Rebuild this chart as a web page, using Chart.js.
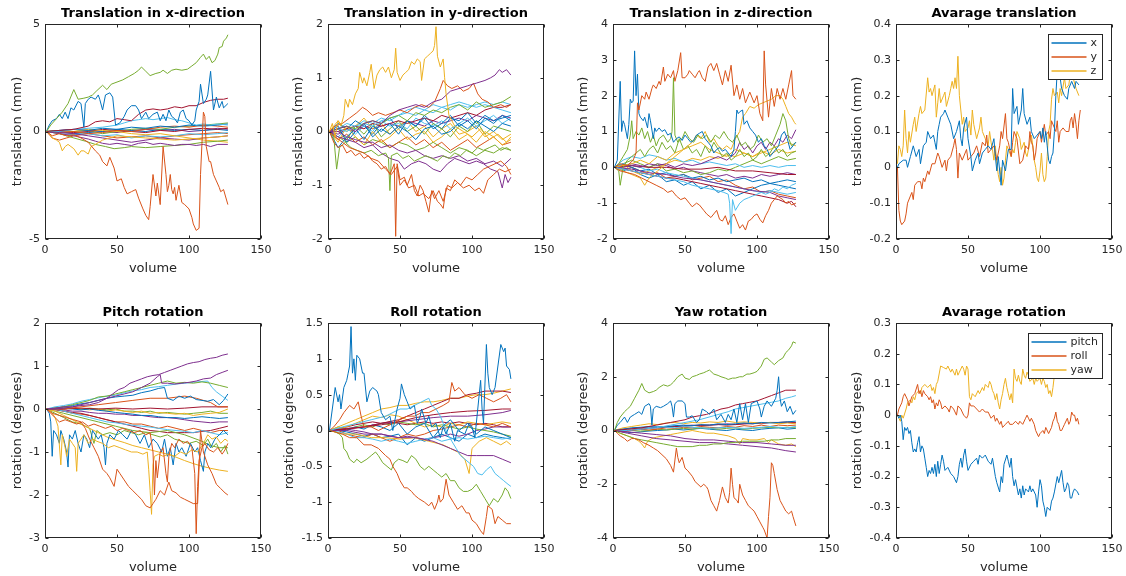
<!DOCTYPE html>
<html><head><meta charset="utf-8">
<script src="https://cdn.jsdelivr.net/npm/chart.js@4.4.1/dist/chart.umd.min.js"></script>
<style>html,body{margin:0;padding:0;background:#fff;width:1126px;height:576px;overflow:hidden;position:relative}canvas{position:absolute}</style>
</head><body>
<script>
// ---------- shared grids / ticks ----------
const VOLUME_TICKS = [0, 50, 100, 150];
const VOL6 = [1,7,13,19,25,31,37,43,49,55,61,67,73,79,85,91,97,103,109,115,121,127];
const B='#0072BD', O='#D95319', Y='#EDB120', P='#7E2F8E', G='#77AC30', C='#4DBEEE', R='#A2142F';

// ---------- Translation x ----------
const TX_G=[[1,0],[4,0.3],[8,0.6],[12,0.9],[16,1.3],[20,1.95],[23,1.5],[27,1.55],[30,1.6],[33,1.7],[36,1.9],[40,2.15],[43,1.95],[46,2.2],[50,2.3],[54,2.4],[58,2.55],[62,2.7],[65,2.85],[67,3.0],[70,2.8],[73,2.6],[77,2.7],[80,2.75],[82,2.85],[85,2.7],[88,2.85],[91,2.9],[95,2.85],[99,2.9],[102,3.05],[105,3.2],[108,3.45],[110,3.6],[112,3.35],[114,3.5],[116,3.2],[118,3.3],[120,3.6],[121,3.9],[123,3.95],[124,4.2],[126,4.35],[127,4.5]];
const TX_B=[[1,0],[3,0.3],[5,0.5],[8,0.6],[10,0.8],[12,0.6],[14,0.9],[16,0.6],[18,1.1],[20,1.0],[23,1.4],[25,1.3],[27,0.2],[28,1.3],[30,1.5],[32,1.6],[35,1.5],[37,1.7],[38,1.5],[40,1.0],[42,1.7],[45,1.8],[47,1.6],[49,0.3],[52,0.4],[55,0.7],[57,1.0],[60,1.2],[63,1.2],[65,1.0],[67,0.6],[70,0.9],[72,0.6],[75,0.8],[78,0.9],[80,0.5],[82,0.8],[84,0.5],[86,1.0],[88,0.7],[90,0.6],[92,0.4],[94,0.9],[96,1.0],[98,0.6],[100,0.5],[102,0.3],[104,0.5],[105,1.0],[107,1.4],[108,2.2],[110,1.3],[112,1.5],[113,1.7],[115,2.8],[117,1.0],[119,1.6],[121,1.1],[123,1.4],[124,1.1],[127,1.3]];
const TX_O=[[1,0],[5,-0.2],[10,-0.1],[15,-0.2],[20,-0.15],[25,-0.3],[30,-0.5],[35,-0.9],[38,-1.1],[40,-1.4],[43,-1.6],[45,-1.2],[48,-1.7],[50,-2.3],[53,-2.2],[55,-2.6],[57,-2.9],[60,-2.8],[63,-2.7],[65,-3.1],[68,-3.6],[70,-3.9],[72,-4.1],[73,-3.5],[75,-2.0],[77,-3.0],[78,-2.4],[80,-3.4],[82,-0.7],[84,-2.0],[85,-2.8],[86,-2.5],[87,-2.0],[88,-2.7],[89,-2.9],[90,-2.6],[91,-3.2],[93,-2.5],[95,-3.3],[97,-3.4],[100,-3.6],[102,-4.0],[103,-4.3],[105,-4.6],[107,-4.5],[108,-2.0],[110,0.9],[111,0.7],[112,-0.7],[114,-1.4],[115,-1.4],[117,-2.0],[119,-2.3],[121,-2.6],[122,-2.8],[124,-2.7],[127,-3.4]];
const TX_R=[[1,0],[10,0.05],[20,0.1],[30,0.25],[35,0.45],[40,0.5],[45,0.45],[50,0.6],[55,0.55],[60,0.5],[65,0.8],[70,1.0],[75,1.05],[80,1.0],[85,1.05],[90,1.15],[95,1.1],[100,1.2],[105,1.2],[110,1.35],[115,1.45],[120,1.5],[124,1.5],[127,1.55]];
const TX_C=[[1,0],[10,0.0],[20,0.1],[30,0.15],[40,0.2],[50,0.3],[55,0.4],[60,0.5],[65,0.55],[70,0.6],[75,0.55],[80,0.6],[85,0.65],[90,0.55],[95,0.5],[100,0.4],[105,0.3],[110,0.35],[115,0.3],[120,0.35],[127,0.3]];
const TX_P1=[[1,0],[10,-0.1],[20,-0.2],[30,-0.35],[35,-0.45],[40,-0.55],[45,-0.6],[50,-0.55],[55,-0.6],[60,-0.65],[65,-0.55],[70,-0.5],[75,-0.6],[80,-0.55],[85,-0.6],[90,-0.65],[95,-0.6],[100,-0.6],[105,-0.65],[110,-0.6],[115,-0.7],[120,-0.6],[127,-0.6]];
const TX_P2=[[1,0],[10,-0.05],[20,-0.1],[30,-0.2],[40,-0.3],[50,-0.4],[60,-0.5],[70,-0.4],[80,-0.3],[90,-0.35],[100,-0.4],[110,-0.3],[120,-0.25],[127,-0.2]];
const TX_G2=[[1,0],[10,-0.1],[20,-0.3],[28,-0.45],[35,-0.6],[42,-0.7],[48,-0.8],[55,-0.75],[60,-0.7],[70,-0.75],[80,-0.7],[90,-0.65],[100,-0.6],[110,-0.5],[120,-0.45],[127,-0.4]];
const TX_Y=[[1,0],[3,-0.1],[5,-0.3],[8,-0.4],[10,-0.5],[12,-0.9],[14,-0.7],[16,-0.6],[18,-0.7],[20,-0.8],[23,-1.1],[25,-0.9],[27,-0.9],[30,-1.05],[32,-0.7],[35,-0.6],[40,-0.4],[45,-0.3],[50,-0.2],[60,-0.25],[70,-0.3],[80,-0.35],[90,-0.4],[100,-0.35],[110,-0.3],[120,-0.25],[127,-0.2]];
const TX_B2=[[1,0],[10,0.05],[20,0.1],[30,0.05],[40,0.15],[50,0.1],[60,0.2],[70,0.15],[80,0.25],[90,0.2],[100,0.3],[110,0.25],[120,0.3],[127,0.35]];
const TX_O2=[[1,0],[10,-0.05],[20,0.0],[30,-0.1],[40,-0.05],[50,0.05],[60,0.0],[70,0.1],[80,0.2],[90,0.25],[100,0.2],[110,0.3],[120,0.25],[127,0.2]];
const TX_Y2=[[1,0],[10,0.05],[20,0.0],[30,0.1],[40,0.05],[50,0.0],[60,-0.1],[70,-0.15],[80,-0.1],[90,-0.2],[100,-0.3],[110,-0.4],[120,-0.45],[127,-0.5]];
const TX_R2=[[1,0],[10,0.0],[20,-0.05],[30,0.0],[40,0.1],[50,0.05],[60,0.0],[70,-0.05],[80,0.05],[90,0.0],[100,0.1],[110,0.15],[120,0.1],[127,0.15]];
const TX_C2=[[1,0],[10,-0.1],[20,-0.15],[30,-0.1],[40,-0.2],[50,-0.15],[60,-0.3],[70,-0.2],[80,-0.25],[90,-0.2],[100,-0.1],[110,-0.15],[120,-0.1],[127,-0.05]];
const TX_G3=[[1,0],[10,0.05],[20,0.0],[30,0.05],[40,-0.1],[50,0.0],[60,0.1],[70,0.15],[80,0.1],[90,0.2],[100,0.25],[110,0.3],[120,0.35],[127,0.4]];
const TX_B3=[[1,0],[10,0.0],[20,-0.1],[30,-0.05],[40,0.0],[50,0.1],[60,0.05],[70,0.0],[80,0.1],[90,0.05],[100,0.1],[110,0.05],[120,0.1],[127,0.05]];
const TX_P3=[[1,0],[10,0.05],[20,0.1],[30,0.05],[40,0.0],[50,-0.05],[60,0.05],[70,0.1],[80,0.05],[90,0.1],[100,0.0],[110,0.05],[120,0.15],[127,0.1]];
const TX_O3=[[1,0],[5,-0.3],[10,-0.4],[15,-0.3],[20,-0.2],[30,-0.1],[40,-0.2],[50,-0.3],[60,-0.25],[70,-0.2],[80,-0.3],[90,-0.2],[100,-0.15],[110,-0.1],[120,-0.05],[127,-0.1]];

// ---------- Translation y ----------
const TY_Y=[[1,0],[3,0.15],[5,-0.1],[7,0.2],[9,0.1],[11,0.3],[12,0.6],[14,0.45],[15,0.6],[17,0.5],[19,0.7],[21,0.8],[22,1.1],[24,0.9],[25,1.0],[27,0.85],[29,1.1],[30,1.25],[32,0.8],[34,1.05],[36,1.15],[38,1.2],[40,1.1],[42,1.2],[44,1.0],[46,1.15],[47,1.55],[48,1.1],[50,0.95],[52,1.05],[54,1.1],[56,1.15],[58,1.3],[60,1.25],[62,1.35],[64,1.3],[65,0.95],[67,1.35],[69,1.4],[71,1.45],[73,1.5],[74,1.6],[75,1.95],[76,1.4],[78,1.2],[80,1.35],[81,1.0],[82,0.7],[84,0.3],[88,0.1],[94,0.0],[100,-0.1],[106,0.05],[112,-0.15],[118,-0.05],[124,-0.2],[127,-0.1]];
const TY_P=[[1,0],[7,0.05],[13,0.1],[19,0.0],[25,0.15],[31,0.2],[37,0.15],[43,0.3],[49,0.4],[55,0.45],[61,0.5],[67,0.45],[73,0.55],[79,0.6],[85,0.75],[91,0.8],[97,0.85],[103,0.9],[109,0.95],[113,1.0],[116,1.05],[119,1.15],[121,1.1],[124,1.15],[127,1.05]];
const TY_O1=[[1,0],[4,-0.2],[7,-0.3],[10,-0.25],[13,-0.4],[16,-0.35],[19,-0.45],[22,-0.4],[25,-0.5],[28,-0.45],[31,-0.55],[34,-0.6],[37,-0.7],[40,-0.65],[43,-0.8],[46,-0.6],[47,-1.95],[48,-0.6],[50,-0.9],[53,-0.85],[55,-1.0],[58,-0.8],[60,-1.1],[62,-1.2],[64,-1.0],[66,-1.1],[68,-1.3],[70,-1.5],[72,-1.1],[74,-1.25],[77,-1.1],[80,-1.3],[83,-1.0],[86,-1.05],[90,-0.95],[94,-1.05],[98,-1.0],[102,-1.1],[105,-1.05],[108,-1.15],[111,-0.9],[115,-0.8],[119,-0.7],[123,-0.75],[127,-0.7]];
const TY_O2=[[1,0],[5,-0.1],[10,-0.2],[15,-0.3],[20,-0.35],[25,-0.4],[30,-0.5],[35,-0.55],[40,-0.7],[44,-0.8],[48,-0.65],[50,-1.0],[53,-0.9],[56,-1.05],[60,-1.0],[63,-1.2],[66,-1.15],[70,-1.25],[73,-1.1],[76,-1.3],[78,-1.35],[80,-1.43],[82,-1.05],[85,-1.1],[88,-0.9],[92,-1.0],[96,-0.85],[100,-0.9],[104,-0.8],[108,-0.7],[112,-0.65],[116,-0.6],[120,-0.55],[124,-0.65],[127,-0.8]];
const TY_O3=[[1,0],[5,0.1],[10,0.15],[15,0.25],[20,0.35],[24,0.45],[27,0.4],[31,0.3],[35,0.35],[40,0.3],[45,0.35],[50,0.4],[55,0.35],[60,0.45],[65,0.5],[70,0.45],[74,0.55],[78,0.8],[80,0.95],[83,0.85],[86,0.8],[90,0.85],[94,0.75],[98,0.8],[101,0.9],[104,0.7],[107,0.6],[111,0.55],[115,0.45],[120,0.5],[124,0.45],[127,0.5]];
const TY_G=[[1,0],[4,-0.1],[6,-0.7],[8,-0.3],[12,-0.2],[16,-0.3],[20,-0.35],[25,-0.4],[30,-0.35],[35,-0.45],[40,-0.4],[42,-0.5],[43,-1.1],[44,-0.45],[48,-0.4],[52,-0.5],[56,-0.45],[60,-0.55],[64,-0.5],[68,-0.45],[72,-0.5],[76,-0.55],[80,-0.45],[84,-0.5],[88,-0.4],[92,-0.45],[96,-0.35],[100,-0.4],[104,-0.3],[108,-0.35],[112,-0.3],[116,-0.25],[120,-0.35],[124,-0.3],[127,-0.35]];
const TY_P2=[[1,0],[7,-0.1],[13,-0.15],[19,-0.2],[25,-0.3],[31,-0.25],[37,-0.4],[43,-0.5],[49,-0.55],[53,-0.7],[58,-0.6],[63,-0.55],[68,-0.6],[73,-0.7],[78,-0.75],[83,-0.6],[88,-0.5],[93,-0.55],[98,-0.6],[103,-0.55],[108,-0.6],[113,-0.7],[118,-0.75],[121,-1.05],[123,-0.8],[125,-0.95],[127,-0.85]];
const TY_P3=[[1,0],[7,0.0],[13,-0.1],[19,-0.15],[25,-0.2],[31,-0.2],[37,-0.3],[43,-0.25],[49,-0.35],[55,-0.4],[61,-0.35],[67,-0.45],[73,-0.5],[79,-0.45],[85,-0.5],[91,-0.45],[97,-0.55],[103,-0.5],[109,-0.6],[115,-0.55],[121,-0.65],[127,-0.5]];
const TY_G2=[[1,0],[7,0.05],[13,0.1],[19,0.05],[25,0.15],[31,0.2],[37,0.15],[43,0.25],[49,0.3],[55,0.2],[61,0.35],[67,0.3],[73,0.4],[79,0.35],[85,0.45],[91,0.5],[97,0.4],[103,0.55],[109,0.45],[115,0.5],[121,0.55],[127,0.65]];
const TY_C=[[1,0],[7,0.05],[13,0.0],[19,0.1],[25,0.15],[31,0.1],[37,0.2],[43,0.25],[49,0.3],[55,0.4],[61,0.45],[67,0.4],[73,0.5],[79,0.45],[85,0.5],[91,0.55],[97,0.5],[103,0.45],[109,0.5],[115,0.45],[121,0.4],[127,0.35]];
const TY_b1=[0,-0.3,-0.1,0.05,-0.15,0.1,0.0,0.15,-0.05,0.2,0.1,0.25,0.05,0.15,0.3,0.1,0.2,0.05,0.25,0.15,0.3,0.2];
const TY_b2=[0,0.1,-0.2,0.0,0.15,-0.1,0.05,-0.05,0.1,0.0,-0.15,0.05,0.1,-0.05,0.0,0.15,0.05,0.2,0.1,0.0,0.15,0.1];
const TY_b3=[0,-0.2,0.1,-0.1,-0.25,0.0,-0.2,-0.1,0.05,-0.15,-0.05,0.0,-0.2,-0.1,0.05,-0.15,-0.05,-0.2,0.0,-0.1,-0.25,-0.15];
const TY_b4=[0,0.0,0.05,0.1,0.05,0.15,0.1,0.15,0.2,0.15,0.2,0.25,0.2,0.3,0.25,0.3,0.35,0.3,0.4,0.45,0.45,0.5];
const TY_b5=[0,-0.1,0.05,-0.05,0.1,0.0,0.2,0.1,0.15,0.05,0.25,0.15,0.1,0.2,0.05,0.15,0.25,0.1,0.2,0.3,0.15,0.25];
const TY_b6=[0,0.05,-0.15,0.1,-0.05,0.15,-0.1,0.05,0.2,0.0,0.1,-0.05,0.15,0.05,-0.1,0.1,0.0,0.2,-0.05,0.1,0.05,0.0];
const TY_b7=[0,-0.15,-0.05,-0.2,-0.1,-0.25,-0.15,-0.3,-0.2,-0.1,-0.25,-0.15,-0.3,-0.2,-0.35,-0.25,-0.15,-0.3,-0.2,-0.1,-0.25,-0.2];
const TY_b8=[0,0.15,0.05,0.2,0.1,-0.05,0.15,0.25,0.05,0.2,0.1,0.3,0.15,0.05,0.25,0.2,0.35,0.15,0.3,0.2,0.25,0.3];
const TY_b9=[0,0.2,0.0,0.1,0.25,0.05,0.15,-0.05,0.1,0.2,0.0,0.1,-0.1,0.05,0.15,-0.05,0.0,0.1,-0.1,0.0,-0.15,-0.05];
const TY_b10=[0,-0.05,0.05,0.0,0.1,0.05,0.1,0.15,0.1,0.2,0.15,0.1,0.2,0.15,0.2,0.25,0.2,0.3,0.25,0.2,0.3,0.25];
const TY_b11=[0,-0.1,-0.2,-0.1,-0.25,-0.15,-0.2,-0.3,-0.2,-0.25,-0.35,-0.3,-0.2,-0.3,-0.4,-0.3,-0.35,-0.45,-0.35,-0.4,-0.3,-0.35];
const TY_b12=[0,0.05,0.15,0.1,0.2,0.15,0.25,0.2,0.3,0.35,0.3,0.4,0.35,0.45,0.4,0.5,0.45,0.5,0.55,0.5,0.55,0.5];

// ---------- Translation z ----------
const TZ_O1=[[1,0],[5,0.1],[10,0.05],[14,0.2],[16,0.4],[17,1.8],[18,1.6],[20,2.0],[22,1.9],[23,2.1],[25,1.9],[27,2.2],[28,2.3],[30,2.2],[32,2.4],[33,2.3],[35,2.8],[36,2.4],[38,2.6],[40,2.5],[42,2.7],[43,2.4],[45,2.7],[47,3.2],[48,2.5],[50,2.5],[52,2.6],[53,2.7],[55,2.6],[57,2.5],[59,2.65],[60,2.7],[62,2.5],[64,2.4],[66,2.8],[68,2.9],[70,2.7],[72,2.9],[74,2.6],[76,2.3],[78,2.7],[80,2.4],[82,2.85],[84,2.0],[86,2.3],[88,1.9],[90,2.2],[92,1.8],[95,2.1],[98,1.8],[100,2.0],[102,1.5],[104,1.3],[105,3.25],[106,2.3],[108,1.4],[110,2.2],[112,1.7],[114,2.2],[116,1.9],[118,2.2],[120,1.9],[122,2.3],[124,2.7],[125,2.0],[127,1.9]];
const TZ_O2=[[1,0],[5,-0.1],[10,-0.15],[15,-0.2],[20,-0.3],[25,-0.4],[30,-0.5],[35,-0.6],[38,-0.7],[41,-0.65],[44,-0.8],[47,-0.9],[50,-0.85],[53,-1.0],[55,-1.1],[58,-1.0],[60,-1.05],[63,-1.2],[65,-1.3],[68,-1.4],[70,-1.3],[72,-1.2],[74,-1.45],[76,-1.5],[78,-1.35],[80,-1.6],[82,-1.4],[84,-1.3],[86,-1.5],[88,-1.7],[90,-1.6],[92,-1.75],[94,-1.5],[96,-1.45],[98,-1.35],[100,-1.3],[102,-1.45],[104,-1.55],[106,-1.35],[108,-1.2],[110,-1.0],[112,-0.9],[114,-0.8],[116,-0.85],[118,-0.9],[120,-1.0],[122,-0.95],[124,-1.05],[127,-1.0]];
const TZ_B1=[[1,0],[3,0.2],[5,2.4],[6,1.0],[7,1.3],[8,1.2],[10,0.8],[11,1.2],[12,1.9],[13,1.8],[14,1.85],[15,3.25],[16,2.0],[17,2.6],[18,1.5],[19,1.4],[21,1.3],[22,1.4],[24,1.1],[25,1.5],[26,1.3],[28,0.8],[29,1.1],[30,1.0],[32,1.1],[34,1.0],[36,1.05],[38,0.9],[40,0.95],[42,0.7],[44,0.8],[46,0.85],[48,0.75],[50,0.9],[52,0.8],[54,0.7],[56,0.75],[58,0.9],[60,0.95],[62,1.0],[64,0.8],[66,0.7],[68,0.6],[70,0.4],[72,0.5],[74,0.55],[76,0.45],[78,0.5],[80,0.4],[82,0.3],[84,0.5],[85,1.0],[86,1.6],[87,1.5],[88,1.55],[90,1.6],[91,1.2],[93,1.3],[95,1.1],[97,1.0],[99,0.9],[101,0.7],[103,0.8],[105,0.6],[107,0.5],[109,0.3],[111,0.4],[113,0.5],[115,0.6],[117,0.9],[119,1.0],[121,0.8],[123,0.5],[125,0.6],[127,0.7]];
const TZ_B2=[[1,0],[7,-0.05],[13,-0.1],[19,-0.15],[25,-0.2],[31,-0.25],[37,-0.3],[43,-0.35],[49,-0.4],[55,-0.5],[61,-0.55],[67,-0.6],[73,-0.65],[77,-0.7],[80,-0.75],[81,-1.0],[82,-1.85],[83,-0.9],[85,-1.2],[88,-1.0],[91,-0.9],[94,-0.85],[97,-0.8],[100,-0.75],[103,-0.7],[106,-0.75],[109,-0.7],[112,-0.6],[115,-0.65],[118,-0.55],[121,-0.6],[124,-0.5],[127,-0.45]];
const TZ_G1=[[1,0],[4,0.1],[7,0.3],[10,0.5],[12,0.9],[13,1.3],[14,0.8],[16,1.0],[18,0.9],[20,1.1],[22,0.8],[24,1.0],[26,0.7],[28,0.9],[30,0.6],[32,0.8],[35,0.9],[38,0.7],[40,0.8],[41,1.0],[42,2.5],[43,0.9],[45,0.7],[48,0.8],[50,1.0],[53,0.8],[56,0.7],[59,0.9],[62,0.8],[65,0.9],[68,0.7],[71,0.9],[74,0.8],[77,1.0],[80,0.8],[83,0.7],[86,0.9],[89,0.6],[92,0.7],[95,0.5],[98,0.6],[101,0.9],[104,0.7],[107,0.8],[110,0.6],[113,0.9],[116,1.2],[118,1.5],[120,1.3],[122,0.8],[124,0.6],[127,0.7]];
const TZ_G2=[[1,0],[4,-0.1],[5,-0.5],[7,0.0],[10,0.2],[13,0.3],[16,0.4],[19,0.5],[22,0.3],[25,0.5],[28,0.6],[31,0.4],[34,0.7],[37,0.5],[40,0.6],[43,0.4],[46,0.8],[49,0.5],[52,0.6],[55,0.4],[58,0.5],[61,0.3],[64,0.6],[67,0.4],[70,0.7],[73,0.5],[76,0.3],[79,0.4],[82,0.2],[85,0.3],[88,0.5],[91,0.3],[94,0.4],[97,0.2],[100,0.3],[103,0.5],[106,0.3],[109,0.4],[112,0.6],[115,0.4],[118,0.5],[121,0.3],[124,0.4],[127,0.45]];
const TZ_Y1=[[1,0],[7,0.05],[13,0.1],[19,0.2],[25,0.1],[31,0.3],[37,0.2],[43,0.4],[49,0.5],[55,0.7],[58,0.9],[61,0.8],[64,1.0],[67,0.7],[70,0.8],[73,0.6],[76,0.5],[79,0.6],[82,0.5],[85,0.8],[88,1.0],[90,1.4],[92,1.5],[95,1.7],[98,1.65],[101,1.75],[104,1.8],[107,1.85],[110,1.9],[113,2.0],[116,2.0],[118,1.9],[120,1.7],[122,1.5],[124,1.4],[126,1.25],[127,1.2]];
const TZ_Y2=[[1,0],[7,-0.1],[13,-0.2],[19,-0.3],[22,-0.5],[25,-0.3],[31,-0.1],[37,0.1],[43,0.3],[49,0.5],[55,0.6],[61,0.7],[67,0.5],[73,0.4],[79,0.3],[85,0.5],[91,0.4],[97,0.3],[103,0.4],[109,0.5],[115,0.6],[121,0.7],[127,0.6]];
const TZ_P1=[[1,0],[7,0.0],[13,0.05],[19,0.0],[25,0.1],[31,0.05],[37,0.1],[43,0.0],[49,0.1],[55,0.05],[61,0.1],[67,0.2],[73,0.3],[79,0.2],[85,0.4],[88,0.7],[91,0.5],[94,0.6],[97,0.4],[100,0.6],[103,0.7],[106,0.5],[109,0.7],[112,0.6],[115,0.8],[118,0.7],[121,0.9],[124,0.8],[127,1.05]];
const TZ_R=[[1,0],[7,-0.05],[13,-0.1],[19,-0.15],[25,-0.2],[31,-0.25],[37,-0.3],[43,-0.3],[49,-0.35],[55,-0.4],[61,-0.45],[67,-0.5],[73,-0.55],[79,-0.6],[85,-0.65],[91,-0.7],[97,-0.75],[103,-0.8],[109,-0.85],[115,-0.9],[121,-1.0],[124,-0.95],[127,-1.1]];
const TZ_R2=[[1,0],[13,0.05],[25,0.0],[37,0.0],[49,-0.05],[61,-0.05],[73,0.0],[85,-0.1],[97,-0.1],[109,-0.15],[121,-0.2],[127,-0.2]];
const TZ_P2=[[1,0],[13,-0.05],[25,-0.15],[37,-0.2],[49,-0.3],[61,-0.35],[73,-0.45],[85,-0.55],[97,-0.65],[109,-0.7],[115,-0.8],[121,-0.85],[127,-0.9]];
const TZ_b1=[0,0.1,0.05,0.0,-0.1,-0.05,-0.15,-0.2,-0.25,-0.3,-0.35,-0.4,-0.45,-0.5,-0.55,-0.6,-0.65,-0.7,-0.65,-0.7,-0.75,-0.7];
const TZ_b2=[0,0.1,0.0,-0.1,-0.05,-0.2,-0.15,-0.25,-0.2,-0.3,-0.25,-0.35,-0.3,-0.4,-0.35,-0.3,-0.4,-0.35,-0.45,-0.4,-0.35,-0.4];
const TZ_b3=[0,0.2,0.3,0.25,0.35,0.3,0.2,0.25,0.15,0.2,0.1,0.15,0.1,0.05,0.1,0.0,0.05,0.0,0.05,0.0,0.05,0.05];
const TZ_b4=[0,0.1,-0.1,-0.2,-0.1,0.0,0.1,0.2,0.15,0.25,0.2,0.3,0.25,0.35,0.3,0.4,0.3,0.45,0.35,0.5,0.4,0.45];
const TZ_b5=[0,0.05,0.0,-0.1,-0.2,-0.15,-0.3,-0.25,-0.2,-0.35,-0.3,-0.25,-0.4,-0.35,-0.5,-0.6,-0.55,-0.7,-0.65,-0.75,-0.8,-0.85];
const TZ_b6=[0,0.1,0.2,0.1,0.0,0.1,-0.1,-0.05,-0.15,-0.1,-0.2,-0.15,-0.05,-0.1,0.0,0.1,0.2,0.1,0.2,0.3,0.2,0.25];
const TZ_b7=[0,-0.1,0.0,-0.2,-0.3,-0.2,-0.4,-0.35,-0.5,-0.4,-0.6,-0.5,-0.7,-0.6,-0.8,-0.7,-0.6,-0.5,-0.45,-0.5,-0.55,-0.6];
const TZ_b8=[0,0.05,0.1,0.05,0.0,0.1,0.05,-0.05,0.0,-0.1,-0.15,-0.2,-0.25,-0.2,-0.3,-0.25,-0.3,-0.2,-0.25,-0.2,-0.15,-0.2];

// ---------- Average translation ----------
const AT_X=[[1,0.0],[2,0.01],[5,0.02],[7,0.02],[8,0.0],[10,0.03],[12,0.06],[14,0.03],[16,0.05],[17,0.01],[19,0.06],[21,0.07],[22,0.1],[24,0.08],[26,0.09],[27,0.07],[28,0.05],[29,0.1],[30,0.12],[31,0.14],[33,0.15],[34,0.16],[36,0.14],[38,0.12],[40,0.08],[42,0.1],[44,0.13],[45,0.08],[46,0.06],[47,0.11],[49,0.14],[50,0.08],[52,0.03],[53,-0.01],[55,0.02],[57,0.04],[58,0.01],[60,0.04],[62,0.05],[64,0.06],[66,0.05],[68,0.08],[69,0.03],[70,-0.01],[71,0.03],[73,-0.05],[74,0.02],[76,-0.01],[78,0.05],[80,0.05],[81,0.22],[82,0.15],[84,0.17],[85,0.12],[87,0.16],[88,0.22],[89,0.15],[91,0.12],[93,0.14],[94,0.1],[96,0.08],[98,0.09],[100,0.1],[101,0.08],[102,0.11],[103,0.07],[104,0.1],[105,0.06],[106,0.02],[107,0.01],[108,0.03],[109,0.04],[110,0.1],[111,0.2],[112,0.27],[114,0.25],[115,0.22],[117,0.2],[119,0.19],[120,0.22],[122,0.24],[124,0.22],[125,0.24],[127,0.23]];
const AT_Y=[[1,0.0],[2,-0.12],[3,-0.15],[4,-0.16],[6,-0.15],[7,-0.13],[8,-0.1],[10,-0.08],[11,-0.07],[12,-0.09],[13,-0.05],[15,-0.04],[17,-0.04],[18,-0.06],[19,-0.03],[20,-0.04],[22,-0.01],[23,-0.02],[25,0.01],[27,0.01],[29,0.04],[30,0.03],[32,0.0],[34,0.02],[35,-0.01],[36,0.02],[38,0.03],[40,0.06],[41,0.08],[42,0.05],[43,-0.03],[44,0.04],[46,0.02],[48,0.04],[49,0.05],[50,0.02],[52,0.03],[54,0.04],[56,0.06],[58,0.03],[60,0.07],[62,0.06],[63,0.09],[64,0.04],[66,0.05],[68,0.06],[70,0.02],[72,0.06],[73,0.1],[74,0.08],[76,0.15],[77,0.08],[78,0.07],[80,0.03],[81,0.07],[82,0.1],[84,0.08],[86,0.01],[88,0.02],[90,0.06],[92,0.05],[93,0.1],[94,0.07],[95,0.06],[96,0.02],[97,0.04],[98,0.08],[100,0.1],[101,0.07],[103,0.12],[104,0.09],[106,0.1],[107,0.08],[108,0.13],[110,0.11],[111,0.1],[112,0.13],[113,0.07],[114,0.1],[116,0.11],[118,0.1],[120,0.1],[121,0.13],[122,0.14],[123,0.11],[124,0.15],[125,0.12],[126,0.08],[127,0.13],[128,0.16]];
const AT_Z=[[1,0.01],[2,0.06],[3,0.05],[4,0.03],[5,0.06],[6,0.16],[7,0.08],[8,0.04],[9,0.1],[10,0.07],[12,0.12],[13,0.14],[14,0.1],[16,0.15],[17,0.17],[18,0.15],[20,0.16],[22,0.25],[23,0.21],[24,0.22],[25,0.2],[27,0.23],[28,0.14],[29,0.18],[30,0.22],[31,0.18],[33,0.2],[34,0.21],[35,0.17],[37,0.2],[38,0.22],[39,0.24],[40,0.22],[41,0.25],[42,0.22],[43,0.31],[44,0.2],[45,0.16],[46,0.12],[47,0.14],[48,0.1],[50,0.11],[51,0.13],[52,0.09],[53,0.16],[54,0.12],[56,0.08],[58,0.11],[59,0.14],[60,0.1],[62,0.08],[64,0.06],[65,0.1],[66,0.07],[67,0.05],[68,0.02],[69,0.06],[70,0.01],[71,-0.02],[72,-0.04],[73,0.0],[74,-0.05],[75,-0.03],[76,0.02],[77,0.06],[78,0.05],[80,0.03],[81,0.05],[82,0.04],[83,0.07],[84,0.1],[86,0.08],[87,0.05],[89,0.07],[90,0.04],[91,0.03],[92,0.05],[94,0.09],[95,0.06],[96,0.02],[97,0.0],[98,-0.03],[99,-0.04],[100,-0.01],[101,0.04],[102,-0.02],[103,-0.04],[104,-0.03],[105,0.03],[106,0.1],[107,0.12],[108,0.19],[109,0.22],[110,0.2],[112,0.21],[113,0.18],[114,0.22],[115,0.2],[117,0.25],[118,0.22],[120,0.23],[121,0.26],[123,0.25],[125,0.22],[127,0.2]];
const AT_LABELS=['x','y','z'];

// ---------- Pitch ----------
const PI_P1=[[1,0],[7,0.02],[13,0.05],[19,0.05],[25,0.1],[31,0.15],[37,0.2],[43,0.25],[47,0.35],[51,0.45],[55,0.5],[59,0.6],[63,0.65],[67,0.7],[71,0.75],[75,0.78],[79,0.8],[83,0.85],[87,0.9],[91,0.95],[95,1.0],[99,1.05],[103,1.08],[107,1.1],[111,1.15],[115,1.18],[119,1.2],[123,1.25],[127,1.28]];
const PI_P2=[[1,0],[7,0.0],[13,0.02],[19,0.05],[25,0.08],[31,0.1],[37,0.15],[43,0.25],[49,0.3],[55,0.35],[61,0.4],[67,0.5],[73,0.6],[78,0.75],[80,0.8],[81,0.6],[85,0.6],[90,0.58],[95,0.6],[100,0.62],[105,0.65],[110,0.7],[115,0.72],[119,0.8],[123,0.85],[127,0.9]];
const PI_G1=[[1,0],[7,0.02],[13,0.05],[19,0.1],[25,0.15],[31,0.2],[37,0.28],[43,0.3],[49,0.35],[55,0.4],[61,0.45],[67,0.5],[73,0.55],[79,0.6],[85,0.65],[91,0.6],[97,0.62],[103,0.6],[109,0.63],[115,0.6],[121,0.55],[127,0.5]];
const PI_C1=[[1,0],[7,0.05],[13,0.08],[19,0.12],[25,0.18],[31,0.22],[37,0.26],[43,0.3],[49,0.32],[55,0.38],[61,0.42],[67,0.45],[73,0.5],[79,0.52],[85,0.55],[91,0.58],[97,0.6],[103,0.62],[109,0.64],[113,0.65],[116,0.5],[119,0.4],[123,0.3],[127,0.2]];
const PI_B1=[[1,0],[7,0.02],[13,0.05],[19,0.08],[25,0.12],[31,0.15],[37,0.2],[43,0.25],[49,0.28],[55,0.3],[61,0.32],[67,0.38],[73,0.42],[79,0.48],[83,0.5],[85,0.25],[89,0.2],[93,0.3],[97,0.25],[101,0.3],[105,0.22],[109,0.2],[113,0.18],[117,0.22],[121,0.1],[124,0.2],[127,0.35]];
const PI_O1=[[1,0],[13,0.0],[25,0.05],[37,0.1],[49,0.15],[61,0.2],[73,0.25],[85,0.25],[97,0.3],[105,0.25],[110,0.2],[115,0.15],[120,0.05],[127,0.05]];
const PI_R=[[1,0],[13,0.0],[25,0.02],[37,0.0],[49,0.02],[61,0.0],[73,0.02],[85,0.0],[97,0.02],[109,0.05],[121,0.05],[127,0.05]];
const PI_O2=[[1,0],[5,-0.1],[10,-0.15],[15,-0.2],[20,-0.25],[25,-0.3],[28,-0.45],[31,-0.7],[34,-0.9],[37,-1.1],[40,-1.4],[43,-1.5],[45,-1.6],[48,-1.8],[50,-1.4],[52,-1.5],[55,-1.65],[58,-1.8],[61,-1.9],[64,-2.0],[67,-2.1],[70,-2.25],[73,-2.3],[75,-2.2],[77,-2.1],[80,-1.9],[83,-2.0],[86,-1.7],[88,-1.9],[91,-1.95],[94,-2.05],[97,-2.1],[100,-2.15],[103,-2.2],[106,-2.2],[108,-0.5],[110,-1.0],[113,-1.3],[116,-1.5],[119,-1.75],[122,-1.85],[125,-1.95],[127,-2.0]];
const PI_O3=[[1,0],[4,-0.1],[7,-0.2],[10,-0.3],[14,-0.25],[18,-0.3],[22,-0.35],[26,-0.3],[30,-0.4],[34,-0.35],[38,-0.4],[42,-0.45],[46,-0.4],[50,-0.5],[54,-0.45],[58,-0.5],[62,-0.55],[66,-0.5],[70,-0.6],[73,-0.55],[75,-1.0],[76,-2.0],[77,-1.2],[78,-1.6],[80,-1.0],[82,-0.9],[84,-1.5],[85,-1.7],[86,-1.1],[88,-0.8],[90,-0.9],[93,-0.7],[96,-0.8],[99,-0.75],[102,-0.9],[104,-1.5],[105,-2.9],[106,-1.8],[107,-1.2],[109,-0.9],[111,-0.8],[114,-0.95],[117,-1.0],[120,-0.9],[123,-1.05],[125,-0.95],[127,-0.8]];
const PI_Y1=[[1,0],[7,-0.05],[13,-0.15],[19,-0.25],[25,-0.35],[31,-0.45],[37,-0.55],[43,-0.65],[49,-0.72],[55,-0.78],[61,-0.85],[67,-0.9],[73,-0.95],[79,-1.0],[85,-1.05],[91,-1.12],[97,-1.2],[103,-1.27],[109,-1.33],[115,-1.38],[121,-1.42],[127,-1.45]];
const PI_Y2=[[1,0],[4,-0.05],[7,-0.2],[9,-0.4],[11,-1.3],[12,-0.6],[14,-0.9],[15,-1.1],[17,-0.7],[19,-0.8],[21,-0.9],[22,-1.45],[23,-0.8],[25,-0.7],[27,-0.6],[30,-0.8],[33,-0.7],[36,-0.75],[40,-0.8],[44,-0.9],[48,-0.85],[52,-0.9],[56,-0.95],[60,-1.0],[64,-1.0],[68,-1.05],[71,-1.0],[72,-1.4],[73,-1.9],[74,-2.45],[75,-1.3],[76,-1.1],[79,-1.05],[82,-1.1],[86,-1.05],[90,-1.1],[94,-1.0],[98,-1.05],[102,-0.95],[106,-1.0],[110,-0.8],[113,-0.6],[116,-0.7],[119,-0.65],[122,-0.8],[125,-0.7],[127,-0.75]];
const PI_B2=[[1,0],[3,-0.1],[4,-0.3],[5,-1.1],[6,-0.5],[8,-0.6],[10,-0.8],[11,-0.5],[13,-0.7],[15,-1.0],[16,-1.35],[17,-0.6],[19,-0.7],[21,-0.5],[23,-0.8],[25,-1.0],[27,-0.6],[29,-0.7],[31,-0.9],[33,-0.5],[35,-0.6],[37,-0.7],[39,-0.6],[41,-0.9],[42,-1.3],[43,-0.8],[45,-0.6],[48,-0.7],[51,-0.5],[54,-0.6],[57,-0.7],[60,-0.5],[63,-0.6],[66,-0.8],[69,-0.6],[72,-0.9],[75,-0.7],[78,-0.8],[81,-1.0],[83,-0.7],[85,-1.1],[87,-0.9],[89,-1.3],[91,-0.8],[93,-1.0],[95,-0.9],[98,-1.1],[101,-0.8],[104,-1.0],[106,-0.9],[108,-1.2],[110,-1.45],[111,-1.0],[113,-0.8],[115,-0.9],[118,-0.7],[121,-0.6],[124,-0.5],[127,-0.6]];
const PI_G2=[[1,0],[7,-0.1],[13,-0.2],[19,-0.3],[25,-0.35],[31,-0.45],[34,-0.8],[36,-0.5],[40,-0.6],[45,-0.55],[50,-0.6],[55,-0.5],[60,-0.55],[65,-0.6],[70,-0.55],[75,-0.6],[80,-0.65],[85,-0.6],[90,-0.7],[95,-0.75],[100,-0.8],[105,-0.75],[110,-0.85],[113,-0.7],[116,-0.9],[119,-0.8],[122,-1.0],[125,-0.85],[127,-1.05]];
const PI_G3=[[1,0],[13,-0.1],[25,-0.2],[37,-0.3],[49,-0.4],[61,-0.5],[73,-0.55],[85,-0.5],[97,-0.6],[109,-0.75],[115,-0.85],[121,-0.9],[127,-0.9]];
const PI_b1=[0,0.0,-0.05,-0.1,-0.15,-0.2,-0.25,-0.3,-0.32,-0.35,-0.38,-0.4,-0.42,-0.45,-0.48,-0.5,-0.52,-0.55,-0.5,-0.55,-0.6,-0.55];
const PI_b2=[0,0.0,0.02,0.0,-0.02,0.0,-0.03,-0.05,-0.08,-0.1,-0.12,-0.15,-0.15,-0.18,-0.2,-0.2,-0.22,-0.2,-0.18,-0.2,-0.22,-0.2];
const PI_b3=[0,0.0,-0.02,-0.05,-0.05,-0.08,-0.1,-0.1,-0.12,-0.12,-0.15,-0.15,-0.18,-0.2,-0.2,-0.22,-0.25,-0.28,-0.3,-0.32,-0.3,-0.3];
const PI_b4=[0,0.02,0.0,0.02,0.0,-0.02,0.0,-0.05,-0.02,-0.05,-0.08,-0.05,-0.1,-0.08,-0.1,-0.12,-0.1,-0.15,-0.12,-0.1,-0.08,0.0];
const PI_b5=[0,-0.02,-0.05,-0.08,-0.1,-0.15,-0.2,-0.25,-0.3,-0.35,-0.4,-0.45,-0.5,-0.52,-0.55,-0.55,-0.55,-0.55,-0.52,-0.5,-0.45,-0.4];
const PI_b6=[0,0.0,-0.05,-0.1,-0.12,-0.15,-0.2,-0.25,-0.3,-0.3,-0.35,-0.35,-0.4,-0.45,-0.4,-0.45,-0.5,-0.45,-0.5,-0.55,-0.5,-0.5];
const PI_b7=[0,0.02,0.05,0.02,0.0,0.02,0.0,-0.02,0.0,-0.05,-0.05,-0.08,-0.05,-0.1,-0.08,-0.1,-0.12,-0.1,-0.08,-0.05,-0.1,-0.1];

// ---------- Roll ----------
const RO_B1=[[1,0],[3,0.3],[5,0.6],[7,0.4],[8,0.5],[9,0.3],[11,0.6],[13,0.7],[14,0.8],[15,0.9],[16,1.45],[17,0.8],[18,1.0],[19,0.7],[20,1.05],[22,1.0],[24,0.8],[25,0.8],[27,0.4],[29,0.55],[31,0.6],[34,0.55],[35,0.5],[37,0.25],[40,0.15],[43,0.2],[45,0.0],[48,0.3],[50,0.45],[51,0.65],[53,0.5],[55,0.4],[57,0.3],[60,0.35],[62,0.1],[64,0.2],[65,0.3],[68,0.1],[70,0.2],[72,0.05],[75,0.1],[78,-0.1],[80,0.05],[82,-0.05],[85,0.1],[88,-0.15],[90,0.0],[95,-0.05],[98,0.1],[100,0.05],[102,-0.1],[104,0.3],[106,0.7],[107,0.3],[108,0.1],[110,1.2],[111,0.8],[112,0.6],[114,0.5],[116,0.6],[118,0.9],[120,1.2],[122,1.1],[123,1.15],[124,0.9],[126,0.85],[127,0.72]];
const RO_O1=[[1,0],[5,-0.02],[10,-0.05],[15,-0.1],[20,-0.1],[25,-0.2],[30,-0.2],[35,-0.25],[40,-0.35],[43,-0.4],[45,-0.5],[48,-0.6],[50,-0.7],[53,-0.8],[55,-0.8],[58,-0.85],[60,-0.9],[63,-0.95],[67,-1.0],[70,-1.05],[72,-1.0],[74,-1.1],[76,-1.0],[77,-0.9],[78,-1.0],[80,-0.95],[82,-0.68],[84,-0.9],[87,-1.0],[90,-1.1],[93,-1.05],[96,-1.15],[98,-1.15],[100,-1.25],[103,-1.3],[106,-1.4],[108,-1.45],[110,-1.2],[111,-1.05],[114,-1.1],[116,-1.3],[118,-1.2],[121,-1.25],[124,-1.3],[127,-1.3]];
const RO_O2=[[1,0],[4,0.05],[8,0.15],[11,0.25],[15,0.35],[18,0.3],[21,0.4],[23,0.2],[25,0.05],[30,0.05],[35,0.0],[40,0.05],[45,0.1],[50,0.15],[55,0.2],[60,0.2],[65,0.25],[70,0.25],[75,0.3],[80,0.35],[84,0.4],[86,0.67],[88,0.55],[91,0.6],[95,0.5],[100,0.45],[105,0.5],[110,0.45],[115,0.4],[120,0.45],[124,0.5],[127,0.4]];
const RO_G1=[[1,0],[5,-0.02],[8,-0.05],[10,-0.1],[11,-0.25],[13,-0.3],[15,-0.4],[18,-0.45],[20,-0.4],[23,-0.45],[27,-0.4],[30,-0.35],[33,-0.3],[35,-0.35],[38,-0.45],[41,-0.5],[44,-0.55],[46,-0.45],[49,-0.4],[52,-0.42],[55,-0.45],[58,-0.35],[61,-0.4],[64,-0.5],[67,-0.55],[70,-0.5],[73,-0.55],[76,-0.6],[79,-0.65],[82,-0.6],[85,-0.7],[88,-0.7],[91,-0.8],[94,-0.85],[97,-0.85],[100,-0.82],[103,-0.75],[106,-0.85],[109,-0.95],[112,-1.05],[115,-0.95],[118,-1.0],[121,-0.9],[123,-0.8],[125,-0.85],[127,-0.95]];
const RO_C1=[[1,0],[10,0.05],[20,0.1],[30,0.15],[40,0.2],[50,0.3],[55,0.3],[60,0.35],[65,0.4],[70,0.45],[72,0.35],[75,0.3],[78,0.2],[80,0.1],[83,-0.05],[86,-0.15],[89,-0.25],[92,-0.35],[95,-0.4],[98,-0.45],[101,-0.5],[104,-0.6],[107,-0.62],[110,-0.55],[113,-0.5],[116,-0.6],[119,-0.65],[122,-0.7],[125,-0.75],[127,-0.78]];
const RO_P1=[[1,0],[13,0.0],[25,-0.05],[37,-0.05],[49,-0.1],[61,-0.1],[73,-0.15],[85,-0.25],[91,-0.3],[97,-0.35],[103,-0.35],[109,-0.35],[115,-0.35],[121,-0.4],[127,-0.45]];
const RO_R1=[[1,0],[13,0.02],[25,0.05],[37,0.1],[49,0.15],[61,0.25],[67,0.3],[73,0.35],[79,0.4],[85,0.45],[91,0.45],[97,0.5],[103,0.52],[109,0.55],[115,0.55],[121,0.55],[127,0.53]];
const RO_R2=[[1,0],[13,0.02],[25,0.05],[37,0.08],[49,0.12],[61,0.18],[73,0.22],[85,0.25],[97,0.27],[109,0.28],[121,0.3],[127,0.3]];
const RO_Y1=[[1,0],[7,0.05],[13,0.1],[19,0.15],[25,0.2],[31,0.25],[37,0.3],[43,0.32],[49,0.35],[55,0.35],[61,0.38],[67,0.4],[73,0.4],[79,0.42],[85,0.45],[91,0.45],[97,0.48],[103,0.5],[109,0.5],[115,0.52],[121,0.55],[127,0.58]];
const RO_Y2=[[1,0],[10,-0.05],[20,-0.05],[30,-0.1],[40,-0.1],[50,-0.12],[60,-0.1],[70,-0.15],[80,-0.2],[85,-0.25],[90,-0.3],[95,-0.4],[98,-0.6],[100,-0.25],[105,-0.15],[110,-0.1],[115,-0.15],[120,-0.2],[124,-0.15],[127,-0.2]];
const RO_P2=[[1,0],[13,0.03],[25,0.05],[37,0.1],[49,0.12],[61,0.15],[73,0.18],[85,0.2],[97,0.2],[109,0.22],[121,0.25],[127,0.28]];
const RO_b1=[0,0.02,0.0,0.05,0.02,0.08,0.05,0.0,0.1,-0.05,0.05,0.1,-0.1,0.05,0.15,0.0,0.1,-0.05,0.05,0.0,-0.05,-0.1];
const RO_b2=[0,-0.02,-0.05,-0.1,-0.1,-0.12,-0.15,-0.12,-0.15,-0.18,-0.15,-0.12,-0.1,-0.15,-0.12,-0.1,-0.12,-0.1,-0.08,-0.1,-0.12,-0.1];
const RO_b3=[0,0.05,0.02,0.05,0.08,0.05,0.1,0.08,0.12,0.1,0.08,0.1,0.05,0.08,0.05,0.02,0.05,0.02,0.0,-0.02,-0.05,-0.08];
const RO_b4=[0,0.0,-0.05,-0.08,-0.1,-0.05,-0.1,-0.15,-0.1,-0.05,-0.08,-0.05,0.0,0.02,0.05,0.08,0.05,0.1,0.08,0.05,0.1,0.05];
const RO_b5=[0,0.02,0.05,0.1,0.15,0.2,0.18,0.22,0.2,0.15,0.1,0.05,0.08,0.05,0.1,0.08,0.12,0.1,0.08,0.1,0.12,0.1];
const RO_b6=[0,0.0,0.02,0.0,-0.02,-0.05,-0.05,-0.08,-0.1,-0.08,-0.1,-0.12,-0.1,-0.08,-0.05,-0.08,-0.05,0.0,0.02,0.05,0.05,0.05];
const RO_b7=[0,0.02,0.05,0.08,0.1,0.12,0.1,0.12,0.1,0.08,0.1,0.12,0.1,0.12,0.1,0.12,0.1,0.08,0.1,0.08,0.05,0.05];
const RO_b8=[0,0.0,-0.02,-0.05,-0.08,-0.05,-0.1,-0.08,-0.05,-0.2,-0.1,-0.15,-0.1,-0.05,-0.1,-0.15,-0.05,-0.1,-0.05,-0.08,-0.1,-0.12];

// ---------- Yaw ----------
const YA_G1=[[1,0],[3,0.3],[5,0.5],[8,0.7],[10,0.8],[12,0.9],[15,1.2],[18,1.5],[20,1.75],[22,1.5],[25,1.4],[28,1.45],[30,1.5],[32,1.6],[35,1.7],[38,1.65],[40,1.7],[42,1.8],[45,2.0],[48,2.1],[50,1.95],[53,1.9],[55,2.0],[58,2.05],[60,2.1],[63,2.15],[65,2.2],[67,2.25],[70,2.1],[73,2.05],[75,2.0],[78,1.95],[80,1.9],[83,1.95],[85,1.95],[88,2.0],[90,2.0],[93,2.1],[95,2.1],[98,2.15],[100,2.2],[103,2.4],[105,2.65],[107,2.7],[110,2.55],[112,2.45],[115,2.6],[118,2.7],[120,2.9],[122,3.0],[124,3.15],[125,3.3],[127,3.25]];
const YA_B1=[[1,0],[3,0.2],[5,0.3],[8,0.5],[10,0.3],[12,0.5],[15,0.6],[18,0.7],[20,0.6],[22,0.9],[25,1.0],[26,0.9],[27,0.2],[28,0.8],[30,0.9],[33,0.85],[35,0.9],[38,1.0],[40,1.1],[41,0.9],[42,0.5],[43,1.0],[45,1.1],[48,1.1],[50,1.0],[51,0.5],[53,0.5],[55,0.55],[58,0.3],[60,0.4],[62,0.8],[65,0.7],[67,0.6],[70,0.8],[72,0.4],[75,0.6],[78,0.3],[80,0.6],[82,0.4],[84,0.8],[86,0.3],[88,1.0],[90,0.4],[92,1.0],[94,0.3],[96,1.0],[98,1.05],[100,1.1],[102,0.8],[103,0.5],[105,0.9],[107,1.1],[110,0.9],[113,1.2],[114,1.5],[115,2.0],[116,1.2],[117,0.9],[119,1.1],[121,0.7],[123,0.9],[125,0.6],[127,0.75]];
const YA_R1=[[1,0],[10,0.05],[20,0.1],[30,0.2],[40,0.3],[50,0.4],[55,0.5],[60,0.55],[65,0.6],[70,0.7],[75,0.8],[80,0.85],[85,0.95],[90,1.0],[95,1.05],[100,1.1],[105,1.2],[110,1.3],[115,1.4],[120,1.5],[124,1.5],[127,1.5]];
const YA_C1=[[1,0],[10,0.0],[20,0.05],[30,0.1],[40,0.2],[50,0.3],[60,0.4],[70,0.55],[80,0.7],[85,0.8],[90,0.85],[95,0.9],[100,0.95],[105,1.0],[110,1.05],[115,1.1],[120,1.2],[124,1.25],[127,1.3]];
const YA_O1=[[1,0],[3,-0.1],[5,-0.2],[8,-0.3],[10,-0.4],[13,-0.3],[15,-0.3],[18,-0.35],[21,-0.45],[25,-0.55],[28,-0.65],[31,-0.75],[34,-0.9],[37,-1.05],[40,-1.3],[42,-1.55],[44,-0.65],[45,-1.0],[46,-1.2],[48,-1.0],[50,-1.4],[52,-1.5],[55,-1.7],[57,-1.9],[59,-2.0],[61,-2.1],[63,-2.0],[65,-2.1],[66,-2.2],[68,-2.6],[70,-2.8],[72,-3.0],[73,-2.8],[74,-2.6],[76,-2.1],[78,-2.5],[80,-2.7],[81,-2.3],[82,-1.4],[83,-2.0],[84,-2.5],[86,-2.6],[87,-2.7],[88,-2.0],[90,-2.4],[92,-2.6],[94,-2.8],[96,-2.9],[98,-3.0],[100,-3.2],[102,-3.4],[104,-3.6],[105,-3.7],[107,-4.0],[108,-3.2],[109,-2.5],[110,-1.2],[111,-1.3],[112,-1.6],[114,-2.2],[116,-2.6],[118,-2.8],[120,-3.0],[122,-3.1],[124,-3.0],[125,-3.2],[127,-3.55]];
const YA_G2=[[1,0],[5,-0.1],[10,-0.2],[15,-0.3],[20,-0.35],[25,-0.4],[30,-0.45],[35,-0.5],[40,-0.55],[45,-0.6],[50,-0.6],[55,-0.6],[60,-0.55],[65,-0.55],[70,-0.5],[75,-0.5],[80,-0.45],[85,-0.45],[90,-0.4],[95,-0.4],[100,-0.4],[105,-0.4],[110,-0.35],[115,-0.35],[120,-0.3],[127,-0.3]];
const YA_P1=[[1,0],[10,-0.1],[20,-0.2],[30,-0.3],[40,-0.35],[50,-0.4],[60,-0.45],[70,-0.45],[80,-0.5],[90,-0.55],[100,-0.6],[110,-0.65],[115,-0.7],[120,-0.75],[127,-0.8]];
const YA_P2=[[1,0],[10,-0.05],[20,-0.1],[30,-0.15],[40,-0.2],[50,-0.3],[60,-0.35],[70,-0.35],[80,-0.4],[90,-0.45],[100,-0.45],[110,-0.5],[120,-0.55],[127,-0.55]];
const YA_Y1=[[1,0],[5,-0.1],[10,-0.2],[15,-0.3],[18,-0.4],[20,-0.5],[22,-0.65],[24,-0.4],[27,-0.3],[30,-0.25],[35,-0.2],[40,-0.15],[45,-0.1],[50,-0.05],[55,0.0],[60,-0.05],[65,-0.1],[70,-0.1],[75,-0.15],[80,-0.2],[85,-0.3],[88,-0.5],[90,-0.3],[95,-0.35],[100,-0.35],[105,-0.3],[108,-0.45],[110,-0.35],[115,-0.5],[120,-0.55],[124,-0.5],[127,-0.6]];
const YA_b1=[0,0.05,0.1,0.12,0.15,0.12,0.15,0.18,0.2,0.18,0.22,0.2,0.25,0.22,0.25,0.28,0.25,0.3,0.28,0.3,0.32,0.35];
const YA_b2=[0,0.1,0.15,0.2,0.25,0.22,0.28,0.3,0.25,0.3,0.28,0.32,0.3,0.35,0.3,0.32,0.3,0.28,0.3,0.25,0.28,0.25];
const YA_b3=[0,0.05,0.08,0.1,0.12,0.15,0.12,0.1,0.15,0.12,0.1,0.08,0.1,0.12,0.1,0.08,0.1,0.12,0.15,0.12,0.1,0.15];
const YA_b4=[0,0.0,0.02,0.05,0.08,0.1,0.12,0.15,0.15,0.18,0.2,0.2,0.22,0.2,0.22,0.25,0.25,0.28,0.3,0.3,0.32,0.3];
const YA_b5=[0,-0.05,0.0,0.05,0.02,0.05,0.1,0.08,0.12,0.1,0.15,0.12,0.1,0.15,0.12,0.18,0.15,0.2,0.15,0.2,0.18,0.2];
const YA_b6=[0,0.02,0.0,-0.02,0.0,0.05,0.02,0.05,0.08,0.05,0.1,0.08,0.05,0.08,0.1,0.05,0.08,0.1,0.12,0.1,0.12,0.1];
const YA_b7=[0,0.05,0.08,0.1,0.1,0.12,0.15,0.15,0.18,0.2,0.18,0.2,0.22,0.25,0.22,0.25,0.28,0.25,0.3,0.28,0.3,0.28];
const YA_b8=[0,-0.05,-0.08,-0.05,-0.02,0.0,0.02,0.05,0.02,0.05,0.08,0.05,0.02,0.0,0.05,0.02,0.0,0.05,0.08,0.1,0.05,0.08];

// ---------- Average rotation ----------
const AR_P=[[1,0],[2,-0.01],[3,0.0],[4,-0.02],[5,-0.08],[6,-0.04],[7,-0.05],[8,-0.04],[9,-0.06],[10,-0.05],[11,-0.09],[12,-0.12],[13,-0.11],[14,-0.12],[15,-0.09],[16,-0.07],[17,-0.12],[18,-0.1],[19,-0.11],[20,-0.14],[21,-0.17],[22,-0.2],[23,-0.18],[24,-0.19],[25,-0.17],[26,-0.19],[27,-0.16],[28,-0.2],[29,-0.15],[30,-0.19],[31,-0.16],[32,-0.13],[33,-0.15],[34,-0.18],[36,-0.17],[38,-0.19],[40,-0.2],[42,-0.22],[43,-0.2],[44,-0.16],[45,-0.14],[46,-0.17],[47,-0.13],[48,-0.11],[49,-0.15],[50,-0.18],[52,-0.16],[54,-0.15],[56,-0.14],[57,-0.16],[58,-0.13],[60,-0.14],[62,-0.13],[64,-0.15],[66,-0.16],[67,-0.14],[69,-0.2],[70,-0.22],[72,-0.25],[73,-0.2],[74,-0.22],[75,-0.16],[77,-0.13],[78,-0.15],[79,-0.17],[80,-0.14],[81,-0.2],[82,-0.23],[83,-0.21],[85,-0.26],[86,-0.24],[87,-0.27],[88,-0.23],[89,-0.26],[90,-0.24],[92,-0.25],[93,-0.23],[94,-0.25],[95,-0.24],[97,-0.26],[98,-0.3],[99,-0.25],[100,-0.21],[101,-0.23],[102,-0.28],[103,-0.3],[104,-0.33],[105,-0.3],[107,-0.31],[108,-0.28],[109,-0.27],[110,-0.25],[112,-0.2],[113,-0.22],[115,-0.18],[116,-0.22],[117,-0.25],[118,-0.24],[119,-0.22],[120,-0.23],[121,-0.27],[122,-0.27],[123,-0.25],[124,-0.24],[126,-0.25],[127,-0.26]];
const AR_R=[[1,0],[2,0.02],[4,0.04],[5,0.06],[6,0.07],[8,0.05],[9,0.03],[11,0.06],[13,0.07],[15,0.1],[16,0.07],[17,0.08],[18,0.06],[19,0.08],[20,0.07],[22,0.06],[23,0.05],[24,0.06],[25,0.04],[26,0.05],[27,0.02],[28,0.04],[29,0.03],[30,0.05],[31,0.04],[32,0.02],[34,0.03],[36,0.02],[37,0.01],[38,0.03],[40,0.02],[42,0.0],[43,0.03],[45,0.02],[47,0.0],[49,-0.01],[50,0.0],[51,0.04],[52,0.03],[54,0.03],[56,0.02],[58,0.01],[60,0.02],[62,0.01],[64,0.01],[66,-0.01],[68,0.0],[69,-0.02],[70,-0.01],[72,-0.03],[73,-0.02],[74,-0.04],[76,-0.03],[78,-0.02],[79,-0.03],[81,-0.03],[83,-0.02],[85,-0.03],[86,-0.02],[88,-0.03],[90,-0.01],[91,0.0],[92,-0.01],[93,-0.02],[94,-0.01],[96,-0.03],[97,-0.05],[99,-0.07],[100,-0.06],[102,-0.05],[103,-0.06],[104,-0.04],[106,-0.06],[108,-0.04],[109,-0.02],[110,-0.01],[111,0.01],[112,-0.02],[113,-0.03],[114,-0.05],[115,-0.05],[116,-0.04],[117,-0.03],[119,-0.01],[120,-0.03],[121,-0.02],[122,0.01],[123,0.0],[124,0.0],[125,-0.02],[126,-0.01],[127,-0.03]];
const AR_Y=[[1,0],[2,-0.01],[3,-0.02],[4,0.0],[5,-0.01],[7,0.02],[8,0.04],[10,0.05],[11,0.04],[12,0.06],[13,0.05],[14,0.07],[16,0.08],[17,0.07],[18,0.09],[20,0.1],[22,0.09],[24,0.1],[25,0.08],[26,0.09],[27,0.07],[28,0.1],[29,0.11],[31,0.16],[33,0.155],[35,0.15],[36,0.16],[38,0.14],[39,0.15],[41,0.13],[42,0.15],[43,0.13],[44,0.14],[46,0.16],[47,0.15],[48,0.13],[49,0.16],[50,0.15],[51,0.06],[52,0.05],[53,0.07],[55,0.06],[57,0.08],[58,0.07],[60,0.09],[61,0.08],[62,0.1],[64,0.09],[65,0.11],[66,0.1],[67,0.08],[68,0.07],[69,0.05],[70,0.07],[71,0.04],[72,0.02],[73,0.05],[74,0.07],[75,0.1],[76,0.12],[77,0.09],[78,0.07],[79,0.05],[80,0.07],[81,0.04],[82,0.15],[83,0.12],[84,0.11],[85,0.13],[86,0.11],[87,0.1],[88,0.15],[89,0.13],[90,0.12],[91,0.14],[92,0.13],[93,0.11],[95,0.12],[96,0.1],[97,0.12],[98,0.11],[100,0.12],[101,0.1],[102,0.12],[103,0.11],[104,0.09],[105,0.1],[106,0.07],[107,0.08],[108,0.06],[109,0.09],[110,0.13],[112,0.16],[115,0.18],[118,0.17],[121,0.2],[124,0.19],[127,0.2]];
const AR_LABELS=['pitch','roll','yaw'];

// ---------- panel definitions (data only) ----------
const PANEL_DATA = [
  {title:'Translation in x-direction', ylabel:'translation (mm)', ymin:-5, ymax:5, ystep:5,
   series:[[TX_O,O],[TX_G,G],[TX_B,B],[TX_R,R],[TX_C,C],[TX_Y,Y],[TX_P1,P],[TX_G2,G],[TX_P2,P],[TX_B2,B],[TX_O2,O],[TX_Y2,Y],[TX_R2,R],[TX_C2,C],[TX_G3,G],[TX_B3,B],[TX_P3,P],[TX_O3,O]]},
  {title:'Translation in y-direction', ylabel:'translation (mm)', ymin:-2, ymax:2, ystep:1,
   series:[[TY_Y,Y],[TY_O1,O],[TY_O2,O],[TY_P,P],[TY_O3,O],[TY_G,G],[TY_P2,P],[TY_P3,P],[TY_G2,G],[TY_C,C],[TY_b1,B],[TY_b2,B],[TY_b3,Y],[TY_b4,R],[TY_b5,C],[TY_b6,G],[TY_b7,O],[TY_b8,B],[TY_b9,Y],[TY_b10,P],[TY_b11,G],[TY_b12,C]]},
  {title:'Translation in z-direction', ylabel:'translation (mm)', ymin:-2, ymax:4, ystep:1,
   series:[[TZ_O1,O],[TZ_B1,B],[TZ_G1,G],[TZ_B2,C],[TZ_O2,O],[TZ_Y1,Y],[TZ_G2,G],[TZ_Y2,Y],[TZ_P1,P],[TZ_R,R],[TZ_R2,R],[TZ_P2,P],[TZ_b1,C],[TZ_b2,B],[TZ_b3,C],[TZ_b4,Y],[TZ_b5,O],[TZ_b6,G],[TZ_b7,B],[TZ_b8,P]]},
  {title:'Avarage translation', ylabel:'translation (mm)', ymin:-0.2, ymax:0.4, ystep:0.1,
   series:[[AT_X,B],[AT_Y,O],[AT_Z,Y]], labels:AT_LABELS},
  {title:'Pitch rotation', ylabel:'rotation (degrees)', ymin:-3, ymax:2, ystep:1,
   series:[[PI_O3,O],[PI_O2,O],[PI_Y2,Y],[PI_B2,B],[PI_P1,P],[PI_P2,P],[PI_G1,G],[PI_C1,C],[PI_B1,B],[PI_O1,O],[PI_R,R],[PI_Y1,Y],[PI_G2,G],[PI_G3,G],[PI_b1,C],[PI_b2,B],[PI_b3,P],[PI_b4,Y],[PI_b5,R],[PI_b6,O],[PI_b7,G]]},
  {title:'Roll rotation', ylabel:'rotation (degrees)', ymin:-1.5, ymax:1.5, ystep:0.5,
   series:[[RO_B1,B],[RO_O1,O],[RO_G1,G],[RO_C1,C],[RO_O2,O],[RO_P1,P],[RO_R1,R],[RO_R2,R],[RO_Y1,Y],[RO_Y2,Y],[RO_P2,P],[RO_b1,B],[RO_b2,C],[RO_b3,G],[RO_b4,O],[RO_b5,Y],[RO_b6,P],[RO_b7,R],[RO_b8,B]]},
  {title:'Yaw rotation', ylabel:'rotation (degrees)', ymin:-4, ymax:4, ystep:2,
   series:[[YA_O1,O],[YA_G1,G],[YA_B1,B],[YA_R1,R],[YA_C1,C],[YA_G2,G],[YA_P1,P],[YA_P2,P],[YA_Y1,Y],[YA_b1,B],[YA_b2,Y],[YA_b3,C],[YA_b4,R],[YA_b5,O],[YA_b6,G],[YA_b7,P],[YA_b8,B]]},
  {title:'Avarage rotation', ylabel:'rotation (degrees)', ymin:-0.4, ymax:0.3, ystep:0.1,
   series:[[AR_P,B],[AR_R,O],[AR_Y,Y]], labels:AR_LABELS}
];

// ---------- layout (positions/sizes) ----------
const COL_LEFT=[45,328,613,896], ROW_TOP=[24,323];
const Y_AXIS_W=[35,37,37,46,35,46,37,46];
const PLOT_W=216, PLOT_H=215, TITLE_H=24, X_AXIS_H=40, RIGHT_PAD=20;
const FONT='"DejaVu Sans", "Liberation Sans", sans-serif';
const AX='#262626';

const toPts = a => Array.isArray(a[0]) ? a.map(p=>({x:p[0],y:p[1]})) : a.map((v,i)=>({x:VOL6[i],y:v}));
const fmtTick = v => { const r=Math.round(v*1e6)/1e6; return String(r===0?0:r); };

const boxPlugin={id:'mbox',afterDatasetsDraw(chart){
  const {ctx,chartArea:a,scales:{x,y}}=chart;
  const L=Math.round(a.left)+0.5,Rr=Math.round(a.right)-0.5,T=Math.round(a.top)+0.5,Bb=Math.round(a.bottom)-0.5;
  ctx.save();ctx.strokeStyle=AX;ctx.lineWidth=1;ctx.strokeRect(L,T,Rr-L,Bb-T);ctx.beginPath();
  y.ticks.forEach(t=>{const py=Math.round(y.getPixelForValue(t.value))+0.5;ctx.moveTo(L,py);ctx.lineTo(L+3,py);ctx.moveTo(Rr,py);ctx.lineTo(Rr-3,py);});
  x.ticks.forEach(t=>{const px=Math.round(x.getPixelForValue(t.value))+0.5;ctx.moveTo(px,Bb);ctx.lineTo(px,Bb-3);ctx.moveTo(px,T);ctx.lineTo(px,T+3);});
  ctx.stroke();ctx.restore();
}};
const legendPlugin={id:'mlegend',afterDatasetsDraw(chart){
  const ds=chart.data.datasets; if(!ds[0].label) return;
  const {ctx,chartArea:a}=chart; ctx.save(); ctx.font='11px '+FONT;
  const tw=Math.max(...ds.map(d=>ctx.measureText(d.label).width));
  const w=Math.round(3+35+4+tw+5), h=Math.round(ds.length*14.3+2);
  const x=Math.round(a.right-10-w)+0.5, y=Math.round(a.top+10)+0.5;
  ctx.fillStyle='#fff';ctx.fillRect(x,y,w,h);ctx.strokeStyle=AX;ctx.lineWidth=1;ctx.strokeRect(x,y,w,h);
  ds.forEach((d,i)=>{const cy=Math.round(y+8+i*14.3);ctx.strokeStyle=d.borderColor;ctx.lineWidth=1.5;ctx.beginPath();ctx.moveTo(x+3,cy);ctx.lineTo(x+38,cy);ctx.stroke();
    ctx.fillStyle=AX;ctx.textBaseline='middle';ctx.textAlign='left';ctx.fillText(d.label,x+42,cy);});
  ctx.restore();
}};

PANEL_DATA.forEach((p,i)=>{
  const col=i%4,row=Math.floor(i/4),yW=Y_AXIS_W[i];
  const W=yW+PLOT_W+RIGHT_PAD,H=TITLE_H+PLOT_H+X_AXIS_H;
  const cv=document.createElement('canvas');cv.width=W;cv.height=H;
  cv.style.left=(COL_LEFT[col]-yW)+'px';cv.style.top=(ROW_TOP[row]-TITLE_H)+'px';cv.style.width=W+'px';cv.style.height=H+'px';
  document.body.appendChild(cv);
  new Chart(cv,{type:'line',
    data:{datasets:p.series.map((s,k)=>({label:p.labels?p.labels[k]:undefined,data:toPts(s[0]),borderColor:s[1],backgroundColor:s[1],borderWidth:1,pointRadius:0,fill:false,tension:0}))},
    options:{responsive:false,animation:false,events:[],
      layout:{padding:{left:0,right:RIGHT_PAD,top:0,bottom:0}},
      plugins:{legend:{display:false},tooltip:{enabled:false},
        title:{display:true,text:p.title,fullSize:false,color:'#000',font:{family:FONT,size:13,weight:'bold',lineHeight:1.2},padding:{top:5.5,bottom:2.9}}},
      scales:{
        x:{type:'linear',min:0,max:150,afterFit:s=>{s.height=X_AXIS_H;},grid:{display:false,drawTicks:false},border:{display:false},
           afterBuildTicks:s=>{s.ticks=VOLUME_TICKS.map(v=>({value:v}));},
           ticks:{padding:5,color:AX,font:{family:FONT,size:11},maxRotation:0,autoSkip:false,callback:fmtTick},
           title:{display:true,text:'volume',color:AX,font:{family:FONT,size:13},padding:{top:0,bottom:2.5}}},
        y:{type:'linear',min:p.ymin,max:p.ymax,afterFit:s=>{s.width=yW;},grid:{display:false,drawTicks:false},border:{display:false},
           ticks:{stepSize:p.ystep,padding:5,color:AX,font:{family:FONT,size:11},callback:fmtTick},
           title:{display:true,text:p.ylabel,color:AX,font:{family:FONT,size:13},padding:{top:0,bottom:0}}}
      }},
    plugins:[boxPlugin,legendPlugin]});
});
</script>
</body></html>
